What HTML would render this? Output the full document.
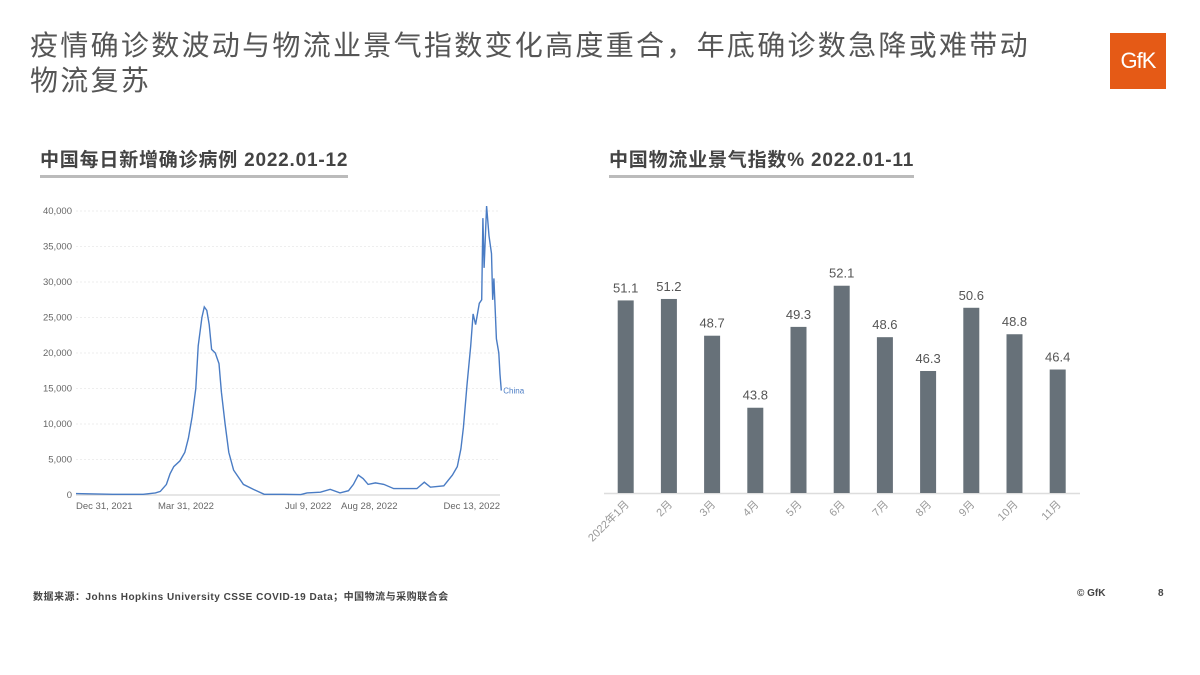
<!DOCTYPE html>
<html><head><meta charset="utf-8">
<style>
body{margin:0;background:#fff;}
#root{position:relative;width:1200px;height:675px;overflow:hidden;background:#fff;font-family:"Liberation Sans","Noto Sans CJK SC",sans-serif;}
.title{position:absolute;left:30px;top:28px;font-size:28px;line-height:35px;color:#555;font-family:"Liberation Sans","Noto Sans CJK SC",sans-serif;letter-spacing:2.3px;white-space:nowrap;}
.sub{position:absolute;top:145px;font-size:19px;font-weight:bold;color:#444;padding-bottom:3px;border-bottom:3px solid #bbb;white-space:nowrap;letter-spacing:0.8px;}
.logo{position:absolute;left:1110px;top:33px;width:56px;height:56px;background:#e55a16;color:#fff;font-size:22px;line-height:56px;text-align:center;letter-spacing:-1px;}
.foot{position:absolute;top:588px;font-size:10px;color:#444;font-weight:bold;white-space:nowrap;}
svg{position:absolute;left:0;top:0;}
</style></head><body>
<div id="root">
<div class="title">疫情确诊数波动与物流业景气指数变化高度重合，年底确诊数急降或难带动<br>物流复苏</div>
<div class="logo">GfK</div>
<div class="sub" style="left:40px">中国每日新增确诊病例 2022.01-12</div>
<div class="sub" style="left:609px">中国物流业景气指数% 2022.01-11</div>
<div class="foot" style="left:33px;letter-spacing:0.5px">数据来源：Johns Hopkins University CSSE COVID-19 Data；中国物流与采购联合会</div>
<div class="foot" style="left:1077px">© GfK</div>
<div class="foot" style="left:1158px">8</div>
<svg id="chart" width="1200" height="675"></svg>
</div>
<script>
const days=[0,30,55,65,69,74,77,80,85,89,92,95,98,100,103,105,107,109,111,114,117,119,122,125,129,137,145,154,170,184,189,200,208,216,223,227,231,235,239,245,252,260,279,285,290,301,308,312,315,317,320,323,325,327,330,332,333,334,335,336,338,340,341,342,344,346,347,348];
const cases=[200,100,100,300,500,1500,3000,4000,4800,6000,8000,11000,15000,21000,25000,26500,26000,24000,20500,20000,18500,14500,10000,6000,3500,1500,800,100,100,50,300,400,800,300,600,1500,2800,2300,1500,1700,1500,900,900,1800,1100,1300,2800,4000,6500,9500,15500,21000,25500,24000,27000,27500,39000,32000,36500,40700,36500,34000,27500,30500,22000,20000,17000,14700];
const yTicks=[0,5000,10000,15000,20000,25000,30000,35000,40000];
const xTickDays=[0,90,190,240,347];
const xTickLabels=["Dec 31, 2021","Mar 31, 2022","Jul 9, 2022","Aug 28, 2022","Dec 13, 2022"];
const months=["2022年1月","2月","3月","4月","5月","6月","7月","8月","9月","10月","11月"];
const lpi=[51.1,51.2,48.7,43.8,49.3,52.1,48.6,46.3,50.6,48.8,46.4];
const NS="http://www.w3.org/2000/svg";
const svg=document.getElementById('chart');
function mk(t,a,txt){const e=document.createElementNS(NS,t);for(const k in a)e.setAttribute(k,a[k]);if(txt!==undefined)e.textContent=txt;svg.appendChild(e);return e;}
const lx=d=>76+d*1.222, ly=v=>495-v*(284/40000);
yTicks.forEach(v=>{
 const g=mk('line',{x1:76,x2:500,y1:ly(v),y2:ly(v),stroke:v?'#eee':'#ccc','stroke-dasharray':v?'2,2':''});
 
 
 const t=mk('text',{x:72,y:ly(v)+3,'text-anchor':'end','font-size':9.5,fill:'#666'},v.toLocaleString('en-US'));
 
 
});
xTickDays.forEach((d,i)=>{
 const anchor=i==0?'start':(i==4?'end':'middle');
 const t=mk('text',{x:lx(d),y:509,'text-anchor':anchor,'font-size':9.5,fill:'#666'},xTickLabels[i]);
 
 
});
const pts=days.map((d,i)=>lx(d).toFixed(1)+','+ly(cases[i]).toFixed(1)).join(' ');
const pl=mk('polyline',{points:pts,fill:'none',stroke:'#4a7cc4','stroke-width':1.4});


const lab=mk('text',{x:lx(days[days.length-1])+2,y:ly(cases[cases.length-1])+3,'font-size':8,fill:'#4a7cc4'},'China');


const bx=i=>625.7+i*43.2, by=v=>493-(v-38)*14.7;
const ax=mk('line',{x1:604,x2:1080,y1:493.5,y2:493.5,stroke:'#ddd','stroke-width':1.5});


lpi.forEach((v,i)=>{
 const r=mk('rect',{x:bx(i)-8,y:by(v),width:16,height:493-by(v),fill:'#677179'});
 
 
 const t=mk('text',{x:bx(i),y:by(v)-8,'text-anchor':'middle','font-size':13,fill:'#555'},v.toFixed(1));
 
 
 const m=mk('text',{x:bx(i)+4,y:505,'text-anchor':'end','font-size':11,fill:'#999',transform:`rotate(-45 ${bx(i)+4} 505)`},months[i]);
 
 
});
</script>
</body></html>
